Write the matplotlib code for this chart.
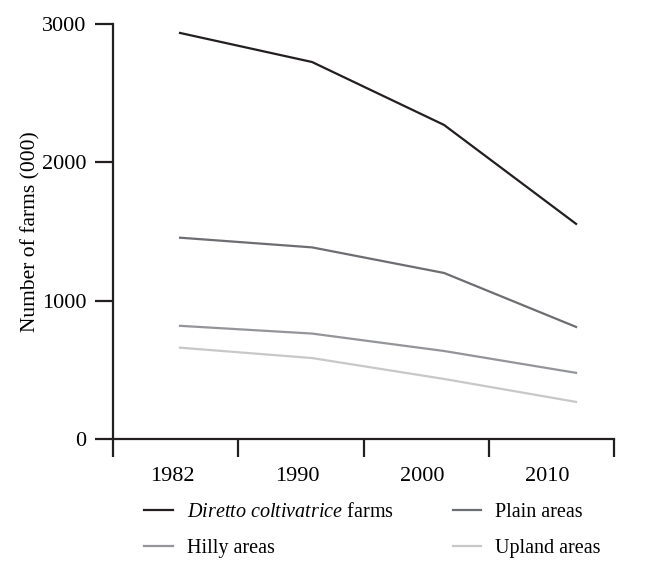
import matplotlib.pyplot as plt
import numpy as np

plt.rcParams['font.family'] = ['Liberation Serif', 'DejaVu Serif']
plt.rcParams['mathtext.fontset'] = 'custom'
plt.rcParams['mathtext.it'] = 'Liberation Serif:italic'
plt.rcParams['mathtext.rm'] = 'Liberation Serif'

years = ['1982', '1990', '2000', '2010']
diretto = [2935, 2725, 2270, 1555]
plain = [1455, 1385, 1200, 810]
hilly = [818, 762, 636, 478]
upland = [660, 585, 434, 268]

series = [
    (r'$\it{Diretto\ coltivatrice}$ farms', diretto, '#231f20'),
    ('Plain areas', plain, '#6d6e71'),
    ('Hilly areas', hilly, '#939598'),
    ('Upland areas', upland, '#c7c8ca'),
]

fig = plt.figure(figsize=(6.51, 5.61), dpi=100)
ax = fig.add_axes([0.1736, 0.2175, 0.7696, 0.7398])

# lines sit slightly right of the label centres, as in the original
xpos = 0.535 + 1.054 * np.arange(len(years))
handles = {}
for label, vals, col in series:
    h, = ax.plot(xpos, vals, color=col, lw=1.6, label=label)
    handles[label] = h

ax.set_xlim(0, 4)
ax.set_ylim(0, 3000)
ax.set_xticks(np.arange(5))
ax.set_xticklabels([])
ax.set_xticks(np.arange(4) + 0.47, minor=True)
ax.set_xticklabels(years, minor=True)
ax.tick_params(axis='x', which='minor', length=0, pad=20, labelsize=16)
ax.tick_params(axis='x', which='major', direction='out', length=13, width=1.6, color='#231f20')
ax.set_yticks([0, 1000, 2000, 3000])
ax.tick_params(axis='y', direction='out', length=13, width=1.6, color='#231f20', labelsize=16, pad=6)

for s in ['top', 'right']:
    ax.spines[s].set_visible(False)
for s in ['left', 'bottom']:
    ax.spines[s].set_linewidth(1.6)
    ax.spines[s].set_color('#231f20')

ax.set_ylabel('Number of farms (000)', fontsize=15.5, labelpad=1)

order = [series[0][0], series[2][0], series[1][0], series[3][0]]
fig.legend([handles[k] for k in order], order, ncol=2, frameon=False,
           loc='upper left', bbox_to_anchor=(0.194, 0.136), fontsize=14.5,
           handlelength=1.4, handletextpad=0.7, columnspacing=2.95, labelspacing=0.85)

fig.savefig('out.png', dpi=100)
